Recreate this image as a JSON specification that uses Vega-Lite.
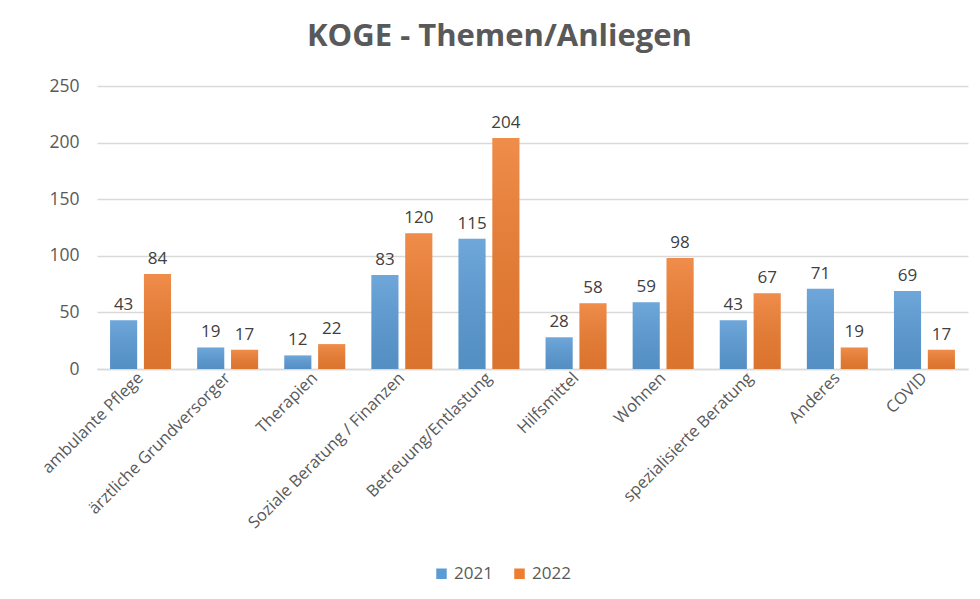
{
  "$schema": "https://vega.github.io/schema/vega-lite/v6.json",
  "width": 871,
  "height": 283,
  "autosize": {"type": "none"},
  "padding": {"left": 97, "top": 86, "right": 12, "bottom": 230},
  "background": "white",
  "title": {
    "text": "KOGE - Themen/Anliegen",
    "font": "Open Sans",
    "fontSize": 31,
    "fontWeight": "bold",
    "color": "#595959",
    "anchor": "middle",
    "dx": -33,
    "offset": 24
  },
  "config": {
    "view": {"stroke": null},
    "font": "Open Sans"
  },
  "data": {
    "values": [
      {"thema": "ambulante Pflege", "jahr": "2021", "wert": 43},
      {"thema": "ambulante Pflege", "jahr": "2022", "wert": 84},
      {"thema": "ärztliche Grundversorger", "jahr": "2021", "wert": 19},
      {"thema": "ärztliche Grundversorger", "jahr": "2022", "wert": 17},
      {"thema": "Therapien", "jahr": "2021", "wert": 12},
      {"thema": "Therapien", "jahr": "2022", "wert": 22},
      {"thema": "Soziale Beratung / Finanzen", "jahr": "2021", "wert": 83},
      {"thema": "Soziale Beratung / Finanzen", "jahr": "2022", "wert": 120},
      {"thema": "Betreuung/Entlastung", "jahr": "2021", "wert": 115},
      {"thema": "Betreuung/Entlastung", "jahr": "2022", "wert": 204},
      {"thema": "Hilfsmittel", "jahr": "2021", "wert": 28},
      {"thema": "Hilfsmittel", "jahr": "2022", "wert": 58},
      {"thema": "Wohnen", "jahr": "2021", "wert": 59},
      {"thema": "Wohnen", "jahr": "2022", "wert": 98},
      {"thema": "spezialisierte Beratung", "jahr": "2021", "wert": 43},
      {"thema": "spezialisierte Beratung", "jahr": "2022", "wert": 67},
      {"thema": "Anderes", "jahr": "2021", "wert": 71},
      {"thema": "Anderes", "jahr": "2022", "wert": 19},
      {"thema": "COVID", "jahr": "2021", "wert": 69},
      {"thema": "COVID", "jahr": "2022", "wert": 17}
    ]
  },
  "encoding": {
    "x": {
      "field": "thema",
      "type": "nominal",
      "sort": null,
      "title": null,
      "scale": {"paddingInner": 0.3, "paddingOuter": 0.15},
      "axis": {
        "labelAngle": -45,
        "labelAlign": "right",
        "labelBaseline": "middle",
        "labelFontSize": 16.5,
        "labelColor": "#595959",
        "labelPadding": 6,
        "ticks": false,
        "domain": true,
        "domainColor": "#D9D9D9",
        "domainWidth": 1.5,
        "labelLimit": 400
      }
    },
    "xOffset": {"field": "jahr", "type": "nominal", "scale": {"paddingInner": 0.2}},
    "y": {
      "field": "wert",
      "type": "quantitative",
      "title": null,
      "scale": {"domain": [0, 250]},
      "axis": {
        "values": [0, 50, 100, 150, 200, 250],
        "labelFontSize": 17.5,
        "labelColor": "#595959",
        "labelPadding": 18,
        "ticks": false,
        "domain": false,
        "gridColor": "#D9D9D9",
        "gridWidth": 1.5
      }
    }
  },
  "layer": [
    {
      "mark": {"type": "bar"},
      "encoding": {
        "color": {
          "field": "jahr",
          "type": "nominal",
          "title": null,
          "scale": {"domain": ["2021", "2022"], "range": ["#5B9BD5", "#ED7D31"]},
          "legend": {
            "orient": "none",
            "legendX": 336,
            "legendY": 479,
            "direction": "horizontal",
            "symbolType": "square",
            "symbolSize": 110,
            "symbolStrokeWidth": 0,
            "labelFontSize": 17,
            "labelColor": "#595959",
            "columnPadding": 18
          }
        }
      }
    },
    {
      "mark": {
        "type": "bar",
        "color": {
          "gradient": "linear",
          "x1": 0, "y1": 0, "x2": 0, "y2": 1,
          "stops": [
            {"offset": 0, "color": "rgba(255,255,255,0.12)"},
            {"offset": 1, "color": "rgba(0,0,0,0.08)"}
          ]
        }
      }
    },
    {
      "mark": {"type": "text", "dy": -15, "fontSize": 17, "color": "#404040"},
      "encoding": {"text": {"field": "wert", "type": "quantitative"}}
    }
  ]
}
